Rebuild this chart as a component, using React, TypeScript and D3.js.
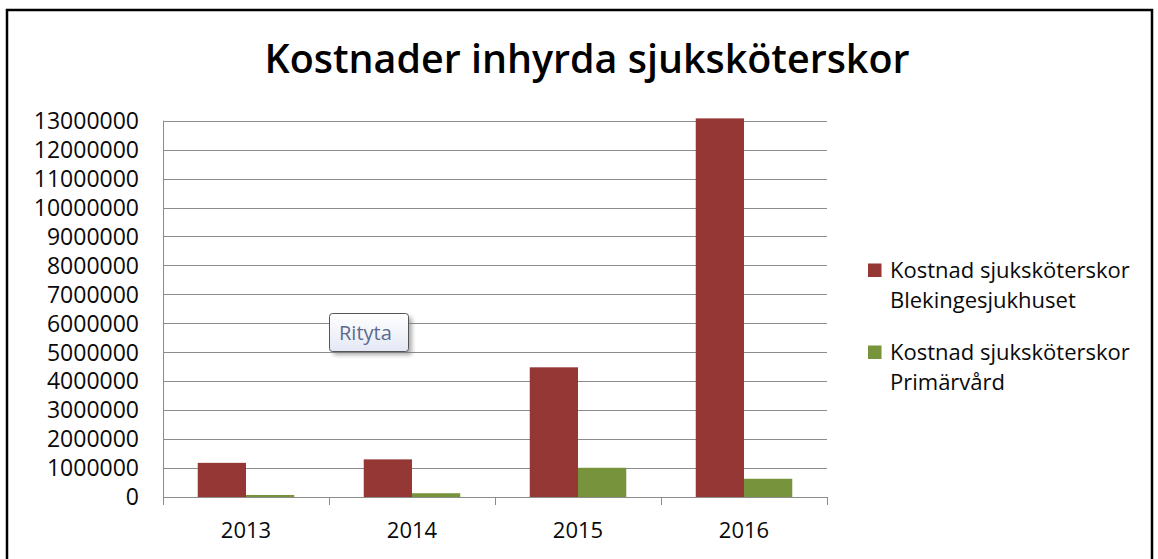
import React from "react";
import * as d3 from "d3";

const title = "Kostnader inhyrda sjuksköterskor";
const years = ["2013", "2014", "2015", "2016"];
const seriesNames = [
  ["Kostnad sjuksköterskor", "Blekingesjukhuset"],
  ["Kostnad sjuksköterskor", "Primärvård"],
];
const blekinge = [1180000, 1300000, 4480000, 13080000];
const primarvard = [70000, 130000, 1010000, 630000];
const yTicks = d3.range(0, 13000001, 1000000);
const colors = ["#953735", "#77933C"];

const W = 1158;
const H = 559;
const plot = { left: 163, right: 827, top: 120.7, bottom: 497 };
const FONT = "'Open Sans', 'Noto Sans', sans-serif";

export default function App() {
  const x = d3.scaleBand<string>().domain(years).range([plot.left, plot.right]).padding(0);
  const inner = d3
    .scaleBand<number>()
    .domain([0, 1])
    .range([0, x.bandwidth()])
    .paddingInner(0)
    .paddingOuter(0.72);
  const y = d3.scaleLinear().domain([0, 13000000]).range([plot.bottom, plot.top]);
  const series = [blekinge, primarvard];
  const boundaries = [...years.map((yr) => x(yr) as number), plot.right];

  return (
    <svg
      width={W}
      height={H}
      style={{ position: "absolute", left: 0, top: 0, background: "#fff" }}
      fontFamily={FONT}
    >
      <defs>
        <linearGradient id="tipg" x1="0" y1="0" x2="0" y2="1">
          <stop offset="0" stopColor="#ffffff" />
          <stop offset="1" stopColor="#e4e8f4" />
        </linearGradient>
        <filter id="shadow" x="-20%" y="-20%" width="150%" height="160%">
          <feGaussianBlur stdDeviation="2" />
        </filter>
      </defs>
      <rect x={0} y={0} width={W} height={H} fill="#fff" />
      {/* outer frame */}
      <path d={`M7,${H + 5} V10 H1152 V${H + 5}`} fill="none" stroke="#000" strokeWidth={2.5} />

      <text
        x={587}
        y={72.5}
        textAnchor="middle"
        fontSize={39}
        fontWeight={600}
        fill="#000"
        textLength={645}
        lengthAdjust="spacingAndGlyphs"
      >
        {title}
      </text>

      {/* gridlines */}
      {yTicks.map((t) => (
        <line
          key={t}
          x1={plot.left}
          x2={plot.right}
          y1={Math.round(y(t)) + 0.5}
          y2={Math.round(y(t)) + 0.5}
          stroke="#8c8c8c"
          strokeWidth={1}
        />
      ))}
      {/* y axis line */}
      <line x1={plot.left + 0.5} x2={plot.left + 0.5} y1={plot.top} y2={plot.bottom + 8} stroke="#8c8c8c" />
      {/* x ticks */}
      {boundaries.map((b, i) => (
        <line key={i} x1={b + 0.5} x2={b + 0.5} y1={plot.bottom} y2={plot.bottom + 8} stroke="#8c8c8c" />
      ))}

      {/* bars */}
      {series.map((vals, si) =>
        vals.map((v, i) => (
          <rect
            key={`${si}-${i}`}
            x={(x(years[i]) as number) + (inner(si) as number)}
            y={y(v)}
            width={inner.bandwidth()}
            height={y(0) - y(v)}
            fill={colors[si]}
          />
        ))
      )}

      {/* y labels */}
      {yTicks.map((t) => (
        <text key={t} x={139} y={y(t)} dy="0.36em" textAnchor="end" fontSize={23} fill="#0a0a0a">
          {String(t)}
        </text>
      ))}
      {/* x labels */}
      {years.map((yr) => (
        <text
          key={yr}
          x={(x(yr) as number) + x.bandwidth() / 2}
          y={538}
          textAnchor="middle"
          fontSize={22}
          fill="#0a0a0a"
        >
          {yr}
        </text>
      ))}

      {/* legend */}
      {seriesNames.map((lines, si) => {
        const top = si === 0 ? 263.5 : 345.5;
        return (
          <g key={si}>
            <rect x={868} y={top} width={13.5} height={13.5} fill={colors[si]} />
            {lines.map((ln, li) => (
              <text key={li} x={890} y={top + 14.5 + li * 29.5} fontSize={22} fill="#0a0a0a">
                {ln}
              </text>
            ))}
          </g>
        );
      })}

      {/* tooltip "Rityta" */}
      <rect x={333} y={317} width={79} height={38} rx={3} fill="#777" opacity={0.6} filter="url(#shadow)" />
      <rect x={329.5} y={313.5} width={79} height={38} rx={3} fill="url(#tipg)" stroke="#555" strokeWidth={1} />
      <text x={339} y={340} fontSize={20} fill="#5b6b8e">
        Rityta
      </text>
    </svg>
  );
}
